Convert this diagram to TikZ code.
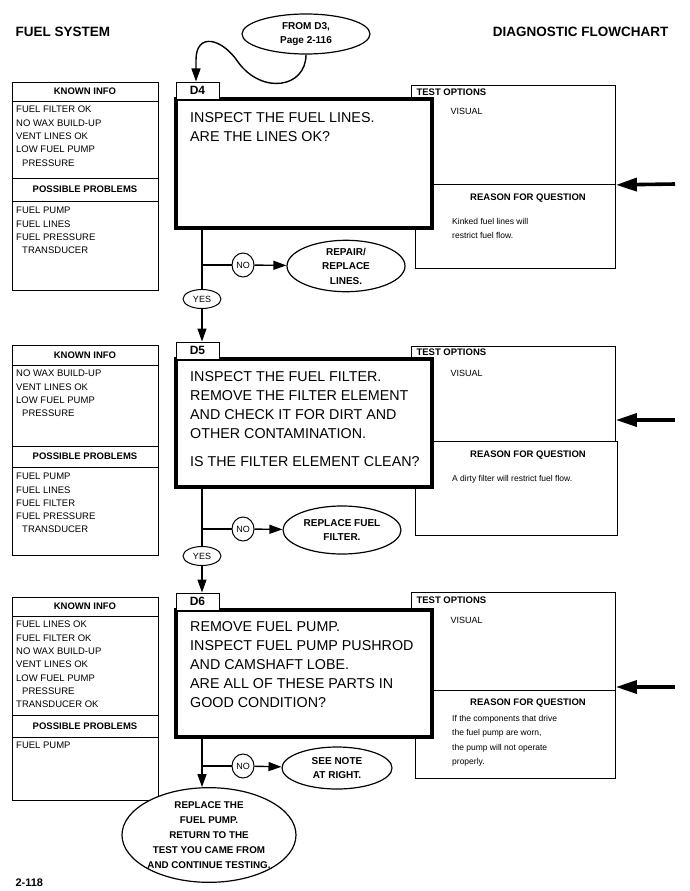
\documentclass[tikz,border=0pt]{standalone}
\usepackage{fontspec}
\setmainfont{Liberation Sans}
\usetikzlibrary{shapes.geometric,arrows.meta}

\begin{document}
\begin{tikzpicture}[x=1pt, y=-1pt,
    infobox/.style={draw, line width=0.9pt, fill=white, inner sep=0pt, anchor=north west},
    boxhead/.style={font=\fontsize{9.5}{11}\selectfont\bfseries},
    itemlist/.style={anchor=north west, align=left, inner sep=0pt, font=\fontsize{9.5}{13.3}\selectfont},
    reasontext/.style={anchor=north west, align=left, inner sep=0pt, font=\fontsize{8.5}{14.5}\selectfont},
    qbox/.style={draw, line width=3.6pt, fill=white, inner sep=0pt},
    qtext/.style={anchor=north west, align=left, inner sep=0pt, font=\fontsize{14.3}{19}\selectfont},
    tabbox/.style={draw, line width=1pt, fill=white, minimum width=43pt, minimum height=17pt, inner sep=0pt, font=\fontsize{12}{13}\selectfont\bfseries},
    action/.style={ellipse, draw, line width=1.2pt, fill=white, align=center, inner sep=0pt, font=\fontsize{10}{14.5}\selectfont\bfseries},
    answer/.style={ellipse, draw, line width=1pt, fill=white, inner sep=0pt, font=\fontsize{9}{10}\selectfont},
    flow/.style={line width=1.4pt},
    flowarrow/.style={line width=1.4pt, -{Triangle[length=13pt,width=9pt]}},
    bigarrow/.style={line width=3.6pt, -{Triangle[length=21pt,width=13pt]}}]
    \useasboundingbox (0,0) rectangle (689,891);
    % Page titles
    \node[anchor=west, font=\fontsize{13.5}{15}\selectfont\bfseries] (title) at (12,32) {FUEL SYSTEM};
    \node[anchor=east, font=\fontsize{13.5}{15}\selectfont\bfseries] (chart) at (672,32) {DIAGNOSTIC FLOWCHART};
    \node[anchor=west, font=\fontsize{11}{12}\selectfont\bfseries] (page) at (12,883) {2-118};
    % Entry from D3
    \node[action, minimum width=128pt, minimum height=40pt] (from) at (306,34) {FROM D3,\\Page 2-116};

    % ---------- D4 ----------
    % Known info
    \node[infobox, minimum width=146pt, minimum height=208pt] (known1) at (12,82) {};
    \draw[line width=0.9pt] (12,101) -- (158,101) (12,178) -- (158,178) (12,201) -- (158,201);
    \node[boxhead] at (85,91.5) {KNOWN INFO};
    \node[itemlist] at (16,106) {FUEL FILTER OK\\NO WAX BUILD-UP\\VENT LINES OK\\LOW FUEL PUMP\\\hspace{6pt}PRESSURE};
    \node[boxhead] at (85,189.5) {POSSIBLE PROBLEMS};
    \node[itemlist] at (16,207) {FUEL PUMP\\FUEL LINES\\FUEL PRESSURE\\\hspace{6pt}TRANSDUCER};
    % Test options and reason
    \node[infobox, minimum width=204pt, minimum height=99pt] (test1) at (411,85) {};
    \node[boxhead, anchor=west] at (413,92) {TEST OPTIONS};
    \node[anchor=west, font=\fontsize{9}{10}\selectfont] at (447,111) {VISUAL};
    \node[infobox, minimum width=200pt, minimum height=84pt] (reason1) at (415,184) {};
    \node[boxhead] at (528,198) {REASON FOR QUESTION};
    \node[reasontext] at (452,218) {Kinked fuel lines will\\restrict fuel flow.};
    \coordinate (side1) at (675,184);
    \draw[bigarrow] (side1) -- (test1.south east);
    % Question
    \node[qbox, minimum width=256pt, minimum height=129pt] (d4) at (304,163.5) {};
    \node[qtext] at (190,112) {INSPECT THE FUEL LINES.\\ARE THE LINES OK?};
    \node[tabbox] (d4tab) at (197.5,90.5) {D4};
    \draw[flowarrow] (from.south) .. controls (306,88) and (262,95) .. (238,62)
        .. controls (222,38) and (196,32) .. (196,60) -- (d4tab.north -| 196,0);
    % Answers
    \node[answer, minimum width=22pt, minimum height=24pt] (no1) at (243,265) {NO};
    \node[answer, minimum width=38pt, minimum height=19pt] (yes1) at (202,299) {YES};
    \node[action, minimum width=118pt, minimum height=48pt] (fix1) at (346,266) {REPAIR/\\REPLACE\\LINES.};
    \draw[flow] (d4.south -| yes1) -- (yes1);
    \draw[flow] (no1 -| yes1) -- (no1);
    \draw[flowarrow] (no1) -- (fix1);

    % ---------- D5 ----------
    % Known info
    \node[infobox, minimum width=146pt, minimum height=210pt] (known2) at (12,345) {};
    \draw[line width=0.9pt] (12,365) -- (158,365) (12,446) -- (158,446) (12,467) -- (158,467);
    \node[boxhead] at (85,355) {KNOWN INFO};
    \node[itemlist] at (16,370) {NO WAX BUILD-UP\\VENT LINES OK\\LOW FUEL PUMP\\\hspace{6pt}PRESSURE};
    \node[boxhead] at (85,456.5) {POSSIBLE PROBLEMS};
    \node[itemlist] at (16,473) {FUEL PUMP\\FUEL LINES\\FUEL FILTER\\FUEL PRESSURE\\\hspace{6pt}TRANSDUCER};
    % Test options and reason
    \node[infobox, minimum width=204pt, minimum height=95pt] (test2) at (411,346) {};
    \node[boxhead, anchor=west] at (413,352.5) {TEST OPTIONS};
    \node[anchor=west, font=\fontsize{9}{10}\selectfont] at (447,373) {VISUAL};
    \node[infobox, minimum width=202pt, minimum height=94pt] (reason2) at (415,441) {};
    \node[boxhead] at (528,455) {REASON FOR QUESTION};
    \node[reasontext] at (452,475) {A dirty filter will restrict fuel flow.};
    \coordinate (side2) at (675,420);
    \draw[bigarrow] (side2) -- (side2 -| test2.east);
    % Question
    \node[qbox, minimum width=256pt, minimum height=128pt] (d5) at (304,423) {};
    \node[qtext] at (190,371) {INSPECT THE FUEL FILTER.\\REMOVE THE FILTER ELEMENT\\AND CHECK IT FOR DIRT AND\\OTHER CONTAMINATION.\\[9pt]IS THE FILTER ELEMENT CLEAN?};
    \node[tabbox] (d5tab) at (197.5,350.5) {D5};
    \draw[flowarrow] (yes1) -- (yes1 |- d5tab.north);
    % Answers
    \node[answer, minimum width=22pt, minimum height=24pt] (no2) at (243,529) {NO};
    \node[answer, minimum width=38pt, minimum height=19pt] (yes2) at (202,556) {YES};
    \node[action, minimum width=118pt, minimum height=48pt] (fix2) at (342,530) {REPLACE FUEL\\FILTER.};
    \draw[flow] (d5.south -| yes2) -- (yes2);
    \draw[flow] (no2 -| yes2) -- (no2);
    \draw[flowarrow] (no2) -- (fix2);

    % ---------- D6 ----------
    % Known info
    \node[infobox, minimum width=146pt, minimum height=203pt] (known3) at (12,597) {};
    \draw[line width=0.9pt] (12,616) -- (158,616) (12,715) -- (158,715) (12,737) -- (158,737);
    \node[boxhead] at (85,606.5) {KNOWN INFO};
    \node[itemlist] at (16,621) {FUEL LINES OK\\FUEL FILTER OK\\NO WAX BUILD-UP\\VENT LINES OK\\LOW FUEL PUMP\\\hspace{6pt}PRESSURE\\TRANSDUCER OK};
    \node[boxhead] at (85,726) {POSSIBLE PROBLEMS};
    \node[itemlist] at (16,742) {FUEL PUMP};
    % Test options and reason
    \node[infobox, minimum width=204pt, minimum height=98pt] (test3) at (411,592) {};
    \node[boxhead, anchor=west] at (413,600) {TEST OPTIONS};
    \node[anchor=west, font=\fontsize{9}{10}\selectfont] at (447,620) {VISUAL};
    \node[infobox, minimum width=200pt, minimum height=88pt] (reason3) at (415,690) {};
    \node[boxhead] at (528,703) {REASON FOR QUESTION};
    \node[reasontext] at (452,715) {If the components that drive\\the fuel pump are worn,\\the pump will not operate\\properly.};
    \coordinate (side3) at (675,687);
    \draw[bigarrow] (side3) -- (side3 -| test3.east);
    % Question
    \node[qbox, minimum width=256pt, minimum height=127pt] (d6) at (304,673.5) {};
    \node[qtext] at (190,621) {REMOVE FUEL PUMP.\\INSPECT FUEL PUMP PUSHROD\\AND CAMSHAFT LOBE.\\ARE ALL OF THESE PARTS IN\\GOOD CONDITION?};
    \node[tabbox] (d6tab) at (197.5,601.5) {D6};
    \draw[flowarrow] (yes2) -- (yes2 |- d6tab.north);
    % Answers
    \node[answer, minimum width=22pt, minimum height=24pt] (no3) at (243,766) {NO};
    \node[action, minimum width=110pt, minimum height=42pt] (note3) at (337,768) {SEE NOTE\\AT RIGHT.};
    \node[action, minimum width=170pt, minimum height=90pt, font=\fontsize{9.8}{15}\selectfont\bfseries] (done) at (209,835) {REPLACE THE\\FUEL PUMP.\\RETURN TO THE\\TEST YOU CAME FROM\\AND CONTINUE TESTING.};
    \draw[flowarrow] (d6.south -| yes2) -- (yes2 |- done.north);
    \draw[flow] (no3 -| yes2) -- (no3);
    \draw[flowarrow] (no3) -- (note3);
\end{tikzpicture}
\end{document}
